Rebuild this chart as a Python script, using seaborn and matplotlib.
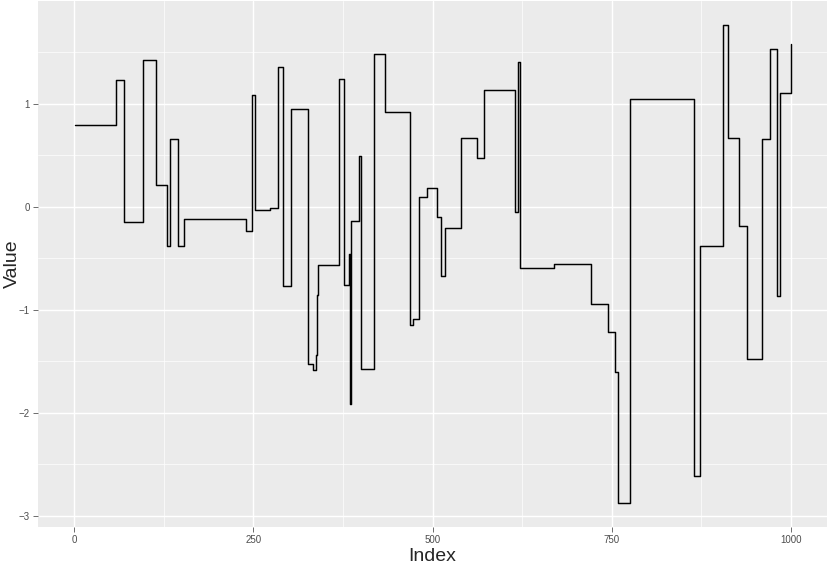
import matplotlib
matplotlib.use("Agg")
import numpy as np
import pandas as pd
import seaborn as sns
import matplotlib.pyplot as plt

# step change points (index where a new level starts) and the level values
step_index = [1, 59, 70, 96, 114, 130, 134, 145, 154, 240, 248, 252, 273, 285,
              291, 303, 326, 334, 337, 339, 341, 370, 377, 384, 385, 387, 397,
              400, 418, 434, 468, 473, 481, 493, 506, 512, 517, 540, 562, 572,
              615, 619, 622, 669, 721, 745, 754, 758, 775, 776, 865, 873, 905,
              912, 927, 939, 960, 970, 980, 984, 1000]
step_value = [0.793, 1.226, -0.152, 1.424, 0.207, -0.385, 0.654, -0.382, -0.123,
              -0.233, 1.084, -0.029, -0.016, 1.356, -0.767, 0.951, -1.528,
              -1.589, -1.437, -0.854, -0.566, 1.236, -0.761, -0.456, -1.913,
              -0.142, 0.492, -1.573, 1.479, 0.916, -1.152, -1.087, 0.094, 0.178,
              -0.104, -0.670, -0.210, 0.663, 0.476, 1.129, -0.055, 1.401, -0.595,
              -0.557, -0.942, -1.217, -1.608, -2.877, -2.55, 1.042, -2.618,
              -0.385, 1.764, 0.667, -0.191, -1.479, 0.657, 1.531, -0.864, 1.107,
              1.580]

x_ticks = [0, 250, 500, 750, 1000]
y_ticks = [-3, -2, -1, 0, 1]

df = pd.DataFrame({"Index": step_index, "Value": step_value})

sns.set_theme(style="darkgrid")
plt.rcParams["font.family"] = ["Liberation Sans", "DejaVu Sans"]

fig = plt.figure(figsize=(8.31, 5.64), dpi=100)
ax = fig.add_axes([38 / 831, 37 / 564, 789 / 831, 526 / 564])
ax.set_facecolor("#EBEBEB")

sns.lineplot(data=df, x="Index", y="Value", ax=ax, color="black",
             linewidth=1.05, drawstyle="steps-post", estimator=None, sort=False)

# ggplot-like 5% expansion
ax.set_xlim(-50, 1050)
ymin, ymax = df["Value"].min(), df["Value"].max()
pad = (ymax - ymin) * 0.05
ax.set_ylim(ymin - pad, ymax + pad)

ax.set_xticks(x_ticks)
ax.set_yticks(y_ticks)
ax.set_xticks([125, 375, 625, 875], minor=True)
ax.set_yticks([-2.5, -1.5, -0.5, 0.5, 1.5], minor=True)
ax.set_xticklabels([str(t) for t in x_ticks])
ax.set_yticklabels(["\u22123", "\u22122", "\u22121", "0", "1"])

ax.grid(which="major", color="white", linewidth=1.02)
ax.grid(which="minor", color="white", linewidth=0.5)
ax.set_axisbelow(True)
for s in ax.spines.values():
    s.set_visible(False)

ax.tick_params(which="major", length=3.8, width=0.5, color="#333333",
               labelsize=7, labelcolor="#4D4D4D", pad=2)
ax.tick_params(which="minor", length=0)
ax.tick_params(axis="both", which="major", bottom=True, left=True)

ax.set_xlabel("Index", fontsize=14, labelpad=2)
ax.set_ylabel("Value", fontsize=14)
ax.yaxis.set_label_coords(-0.0215, 0.5)

fig.savefig("out.png", dpi=100)
